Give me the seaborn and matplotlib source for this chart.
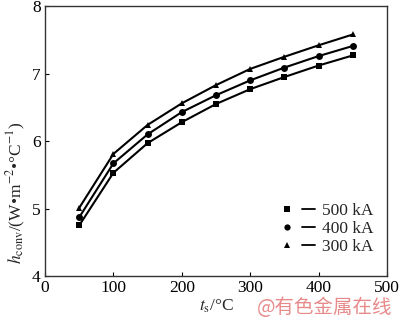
import pandas as pd
import seaborn as sns
import matplotlib.pyplot as plt
from matplotlib.lines import Line2D
from matplotlib.legend_handler import HandlerTuple

# surface temperature (°C) and convective coefficient for three currents
ts = [50, 100, 150, 200, 250, 300, 350, 400, 450]
h_500 = [4.75, 5.53, 5.97, 6.28, 6.55, 6.77, 6.95, 7.12, 7.27]
h_400 = [4.87, 5.67, 6.10, 6.43, 6.68, 6.90, 7.09, 7.26, 7.41]
h_300 = [5.01, 5.81, 6.24, 6.56, 6.83, 7.07, 7.25, 7.42, 7.58]
labels = ["500 kA", "400 kA", "300 kA"]
markers = ["s", "o", "^"]

df = pd.DataFrame({"ts": ts * 3,
                   "h": h_500 + h_400 + h_300,
                   "current": [labels[0]] * 9 + [labels[1]] * 9 + [labels[2]] * 9})

sns.set_style("ticks")
plt.rcParams["font.family"] = ["Liberation Serif", "DejaVu Sans"]
plt.rcParams["mathtext.fontset"] = "stix"

fig = plt.figure(figsize=(4, 3.24), dpi=100)
ax = fig.add_axes([0.1125, 0.148, 0.855, 0.833])

sns.lineplot(data=df, x="ts", y="h", hue="current", style="current",
             palette=["black"] * 3, markers=dict(zip(labels, markers)),
             dashes=False, markersize=5, markeredgewidth=0, linewidth=1.5,
             legend=False, ax=ax)

ax.set_xlim(0, 500)
ax.set_ylim(4, 8)
ax.set_xticks([0, 100, 200, 300, 400, 500])
ax.set_yticks([4, 5, 6, 7, 8])
ax.tick_params(direction="in", length=3, labelsize=12.5, top=False, right=False,
               colors="black", pad=3)
for s in ax.spines.values():
    s.set_color("#333333")
    s.set_linewidth(1.0)

ax.set_xlabel(r"$t_{\rm s}$/°C", fontsize=12.5, labelpad=1)
ax.set_ylabel(r"$h_{\rm conv}$/(W•m$^{-2}$•°C$^{-1}$)", fontsize=12.5)
ax.yaxis.set_label_coords(-0.05, 0.31)

handles = []
for m in markers:
    handles.append((Line2D([], [], marker=m, color="black", ls="none", markersize=4.5, markeredgewidth=0),
                    Line2D([], [], color="black", lw=1.3)))
ax.legend(handles, labels, handler_map={tuple: HandlerTuple(ndivide=None, pad=0.5)},
          loc="lower right", bbox_to_anchor=(0.96, 0.078), frameon=False,
          borderpad=0, borderaxespad=0,
          fontsize=12.5, handlelength=2.0, handletextpad=0.4, labelspacing=0.1)

fig.text(0.982, 0.018, "@有色金属在线", ha="right", va="bottom", fontsize=14,
         color="#e88a8a", family=["Noto Sans CJK SC", "DejaVu Sans"])

plt.savefig("out.png", dpi=100)
